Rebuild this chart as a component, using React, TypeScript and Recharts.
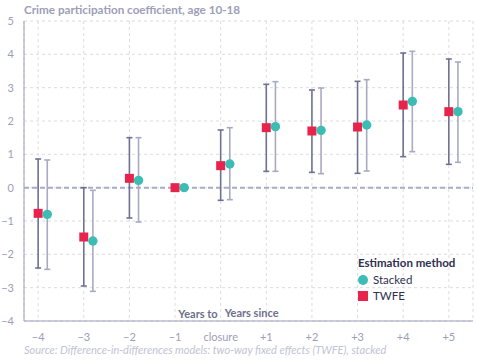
import {
  ComposedChart, Scatter, ErrorBar, XAxis, YAxis, CartesianGrid, ReferenceLine,
} from 'recharts';

const periods = ['−4', '−3', '−2', '−1', 'closure', '+1', '+2', '+3', '+4', '+5'];
const yTicks = [-4, -3, -2, -1, 0, 1, 2, 3, 4, 5];

const twfe = [-0.77, -1.48, 0.28, 0, 0.66, 1.8, 1.7, 1.82, 2.48, 2.28];
const twfeLow = [-2.41, -2.95, -0.91, null, -0.38, 0.49, 0.46, 0.43, 0.93, 0.7];
const twfeHigh = [0.86, 0.0, 1.5, null, 1.73, 3.1, 2.93, 3.19, 4.04, 3.86];

const stacked = [-0.8, -1.6, 0.22, 0, 0.71, 1.83, 1.72, 1.88, 2.59, 2.28];
const stackedLow = [-2.45, -3.11, -1.03, null, -0.36, 0.49, 0.42, 0.5, 1.08, 0.76];
const stackedHigh = [0.83, -0.08, 1.5, null, 1.8, 3.18, 2.99, 3.24, 4.09, 3.77];

const DODGE = 0.2;

const COLORS = {
  twfe: '#e8244c',
  stacked: '#3cbdb4',
  twfeBar: '#6f7193',
  stackedBar: '#a8aac2',
  axis: '#9d9eb8',
  grid: '#dcdce4',
  label: '#6d6f8c',
};

const FONT = 'Lato, "Noto Sans", sans-serif';

function build(vals: number[], lo: (number | null)[], hi: (number | null)[], dx: number) {
  return vals.map((v, i) => ({
    x: i + dx,
    y: v,
    err: lo[i] == null || hi[i] == null ? null : [v - (lo[i] as number), (hi[i] as number) - v],
  }));
}

const twfeData = build(twfe, twfeLow, twfeHigh, 0);
const stackedData = build(stacked, stackedLow, stackedHigh, DODGE);

const fmtY = (v: number) => (v < 0 ? `−${Math.abs(v)}` : `${v}`);

const SquareShape = (p: any) => (
  <rect x={p.cx - 4.5} y={p.cy - 4.5} width={9} height={9} fill={COLORS.twfe} />
);
const DotShape = (p: any) => <circle cx={p.cx} cy={p.cy} r={4.7} fill={COLORS.stacked} />;

function LegendBox() {
  return (
    <div style={{ position: 'absolute', left: 358, top: 255, fontFamily: FONT, fontSize: 11.5, color: '#2e3050', lineHeight: '16px' }}>
      <div style={{ fontWeight: 700, marginBottom: 1 }}>Estimation method</div>
      <div style={{ display: 'flex', alignItems: 'center', gap: 5 }}>
        <span style={{ width: 10, height: 10, borderRadius: 5, background: COLORS.stacked, display: 'inline-block' }} />
        <span>Stacked</span>
      </div>
      <div style={{ display: 'flex', alignItems: 'center', gap: 5 }}>
        <span style={{ width: 10, height: 10, background: COLORS.twfe, display: 'inline-block' }} />
        <span>TWFE</span>
      </div>
    </div>
  );
}

export default function App() {
  return (
    <div style={{ position: 'fixed', left: 0, top: 0, width: 478, height: 360, background: '#fff', fontFamily: FONT }}>
      <div style={{ position: 'absolute', left: 24, top: 2, fontSize: 11.7, fontWeight: 700, color: COLORS.axis }}>
        Crime participation coefficient, age 10-18
      </div>
      <ComposedChart width={478} height={360} margin={{ top: 21, right: 5, bottom: 17, left: 0 }}>
        <CartesianGrid stroke={COLORS.grid} strokeDasharray="3 3" />
        <XAxis
          type="number"
          dataKey="x"
          domain={[-0.31, 9.53]}
          ticks={periods.map((_, i) => i)}
          tickFormatter={(v: number) => periods[v] ?? ''}
          tick={{ fontSize: 11, fill: COLORS.axis, fontFamily: FONT }}
          tickLine={false}
          axisLine={{ stroke: COLORS.axis }}
          tickMargin={6}
          height={22}
          allowDataOverflow
        />
        <YAxis
          type="number"
          dataKey="y"
          domain={[-4, 5]}
          ticks={yTicks}
          tickFormatter={fmtY}
          tick={{ fontSize: 11, fill: COLORS.axis, fontFamily: FONT }}
          tickLine={false}
          axisLine={{ stroke: COLORS.axis }}
          tickMargin={4}
          width={24}
        />
        <ReferenceLine y={0} stroke="#a9aac6" strokeWidth={2} strokeDasharray="5 3" />
        <ReferenceLine
          x={4}
          stroke="none"
          label={{ value: 'Years to', position: 'insideBottomRight', offset: 3, fontSize: 11, fontWeight: 700, fill: COLORS.label, fontFamily: FONT }}
        />
        <ReferenceLine
          x={4}
          stroke="none"
          label={{ value: 'Years since', position: 'insideBottomLeft', offset: 4, fontSize: 11, fontWeight: 700, fill: COLORS.label, fontFamily: FONT }}
        />
        <Scatter name="TWFE" data={twfeData} dataKey="y" shape={SquareShape} isAnimationActive={false}>
          <ErrorBar dataKey="err" direction="y" width={3} stroke={COLORS.twfeBar} strokeWidth={1.6} />
        </Scatter>
        <Scatter name="Stacked" data={stackedData} dataKey="y" shape={DotShape} isAnimationActive={false}>
          <ErrorBar dataKey="err" direction="y" width={3} stroke={COLORS.stackedBar} strokeWidth={1.6} />
        </Scatter>
      </ComposedChart>
      <LegendBox />
      <div style={{ position: 'absolute', left: 24, top: 343, fontSize: 11, fontStyle: 'italic', color: '#c2c3d3', whiteSpace: 'nowrap' }}>
        Source: Difference-in-differences models: two-way fixed effects (TWFE), stacked
      </div>
    </div>
  );
}
